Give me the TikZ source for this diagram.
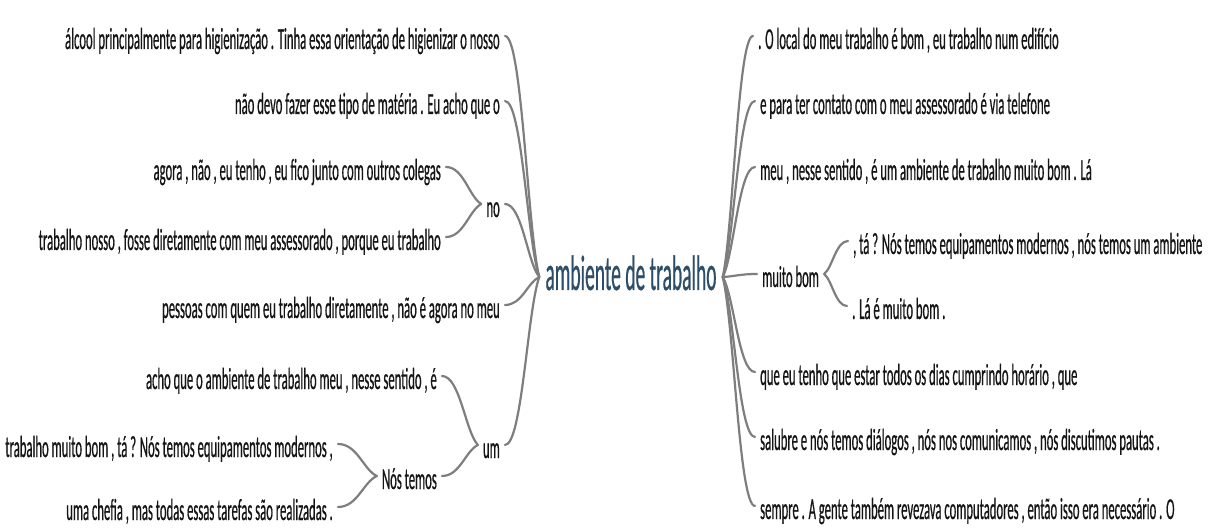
\documentclass[tikz,border=0pt]{standalone}
\usepackage{fontspec}
\newfontfamily\bodyfont{Carlito}[FakeStretch=0.415,FakeBold=0.5]
\newfontfamily\titlefont{Carlito}[FakeStretch=0.39,FakeBold=0.4]
\usetikzlibrary{calc}
\definecolor{txt}{HTML}{151515}
\definecolor{ttl}{HTML}{2C4E68}
\definecolor{ln}{HTML}{7E7E7E}
\newcommand\mcurve[2]{\draw[conn] let \p1=(#1), \p2=(#2) in (\p1) .. controls ({\x1+0.35*(\x2-\x1)},{\y1+0.2*(\y2-\y1)}) and ({\x1+0.5*(\x2-\x1)},{\y2}) .. (\p2);}
\begin{document}
\begin{tikzpicture}[x=1pt,y=1pt,
  tx/.style={font=\bodyfont\fontsize{30.5}{34}\selectfont, text=txt, inner xsep=5pt, inner ysep=0pt, text height=26pt, text depth=0pt},
  lt/.style={tx, anchor=base east},
  rt/.style={tx, anchor=base west},
  ttlnode/.style={font=\titlefont\fontsize{50}{54}\selectfont, text=ttl, inner xsep=6pt, inner ysep=0pt, text height=26pt, text depth=0pt, anchor=base},
  conn/.style={draw=ln, line width=2.2pt, line cap=round}]
\fill[white] (0,0) rectangle (1213,-529);
\useasboundingbox (0,0) rectangle (1213,-529);
% centre
\node[ttlnode] (T) at (631,-290) {ambiente de trabalho};
% left
\node[lt] (L1) at (505,-49) {álcool principalmente para higienização . Tinha essa orientação de higienizar o nosso};
\node[lt] (L2) at (505,-114) {não devo fazer esse tipo de matéria . Eu acho que o};
\node[lt] (L3) at (446,-180) {agora , não , eu tenho , eu fico junto com outros colegas};
\node[lt] (NO) at (505,-217) {no};
\node[lt] (L4) at (446,-250) {trabalho nosso , fosse diretamente com meu assessorado , porque eu trabalho};
\node[lt] (L5) at (505,-318) {pessoas com quem eu trabalho diretamente , não é agora no meu};
\node[lt] (L6) at (442,-389) {acho que o ambiente de trabalho meu , nesse sentido , é};
\node[lt] (UM) at (505,-458) {um};
\node[lt] (L7) at (338,-457) {trabalho muito bom , tá ? Nós temos equipamentos modernos ,};
\node[lt] (NT) at (442,-489) {Nós temos};
\node[lt] (L8) at (338,-520) {uma chefia , mas todas essas tarefas são realizadas .};
% right
\node[rt] (R1) at (753,-49) {. O local do meu trabalho é bom , eu trabalho num edifício};
\node[rt] (R2) at (755,-114) {e para ter contato com o meu assessorado é via telefone};
\node[rt] (R3) at (755,-180) {meu , nesse sentido , é um ambiente de trabalho muito bom . Lá};
\node[rt] (MB) at (757,-287) {muito bom};
\node[rt] (TA) at (848,-254) {, tá ? Nós temos equipamentos modernos , nós temos um ambiente};
\node[rt] (LA) at (847,-319) {. Lá é muito bom .};
\node[rt] (R5) at (755,-385) {que eu tenho que estar todos os dias cumprindo horário , que};
\node[rt] (R6) at (755,-450) {salubre e nós temos diálogos , nós nos comunicamos , nós discutimos pautas .};
\node[rt] (R7) at (755,-519) {sempre . A gente também revezava computadores , então isso era necessário . O};
% connectors left
\mcurve{T.west}{L1.east}
\mcurve{T.west}{L2.east}
\mcurve{T.west}{NO.east}
\mcurve{T.west}{L5.east}
\mcurve{T.west}{UM.east}
\mcurve{NO.west}{L3.east}
\mcurve{NO.west}{L4.east}
\mcurve{UM.west}{L6.east}
\mcurve{UM.west}{NT.east}
\mcurve{NT.west}{L7.east}
\mcurve{NT.west}{L8.east}
% connectors right
\mcurve{T.east}{R1.west}
\mcurve{T.east}{R2.west}
\mcurve{T.east}{R3.west}
\mcurve{T.east}{MB.west}
\mcurve{T.east}{R5.west}
\mcurve{T.east}{R6.west}
\mcurve{T.east}{R7.west}
\mcurve{MB.east}{TA.west}
\mcurve{MB.east}{LA.west}
\end{tikzpicture}
\end{document}
